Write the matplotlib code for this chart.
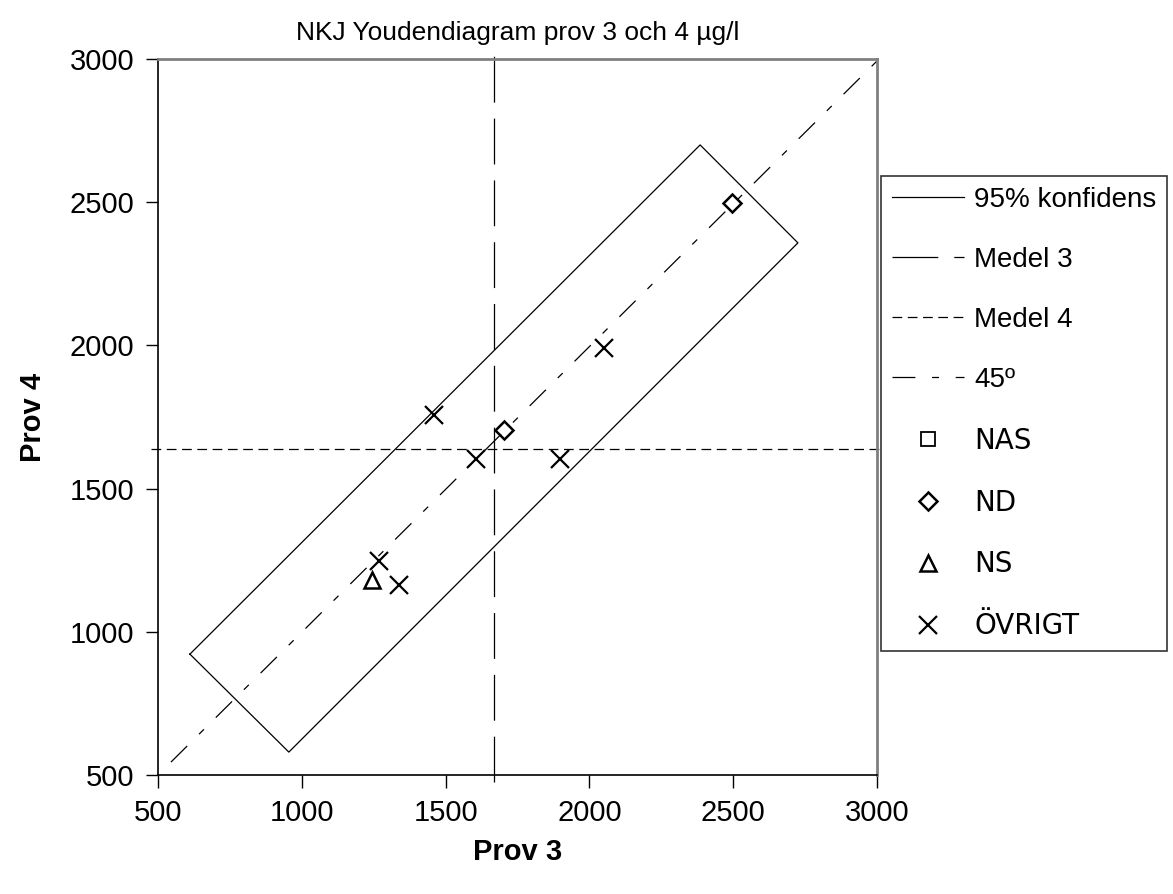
import matplotlib
matplotlib.use("Agg")
import matplotlib.pyplot as plt

plt.rcParams['font.family'] = ['Liberation Sans', 'DejaVu Sans']
plt.rcParams['lines.scale_dashes'] = False

# 95% confidence rectangle corners (Prov 3, Prov 4)
conf_x = [611, 2385, 2725, 955, 611]
conf_y = [922, 2700, 2358, 580, 922]

# means
medel3 = 1668
medel4 = 1638

# lab results by group
nas_x, nas_y = [], []
nd_x = [1703, 2496]
nd_y = [1705, 2497]
ns_x = [1244]
ns_y = [1181]
ovr_x = [1460, 1606, 1898, 1268, 1338, 2051]
ovr_y = [1757, 1603, 1603, 1247, 1163, 1991]

ticks = [500, 1000, 1500, 2000, 2500, 3000]

fig = plt.figure(figsize=(11.73, 8.94), dpi=100)
ax = fig.add_axes([158 / 1173, 1 - 775 / 894, (877 - 158) / 1173, (775 - 59) / 894])

lw = 0.9
ax.plot(conf_x, conf_y, color='black', lw=lw, label='95% konfidens')
ax.plot([medel3, medel3], [475, 3030], color='black', lw=lw,
        dashes=(33, 11.5), clip_on=False, label='Medel 3')
ax.plot([475, 3025], [medel4, medel4], color='black', lw=lw,
        dashes=(7, 4), clip_on=False, label='Medel 4')
ax.plot([545, 3015], [545, 3008], color='black', lw=lw,
        dashes=(16.5, 12, 5, 12), clip_on=False, label='45º')

ax.plot(nas_x, nas_y, ls='none', marker='s', ms=10, mfc='none', mec='black', mew=1.3, label='NAS')
ax.plot(nd_x, nd_y, ls='none', marker='D', ms=9.5, mfc='none', mec='black', mew=1.8, label='ND')
ax.plot(ns_x, ns_y, ls='none', marker='^', ms=11, mfc='none', mec='black', mew=1.8, label='NS')
ax.plot(ovr_x, ovr_y, ls='none', marker='x', ms=13, mec='black', mew=1.6, label='ÖVRIGT')

ax.set_xlim(500, 3000)
ax.set_ylim(500, 3000)
ax.set_xticks(ticks)
ax.set_yticks(ticks)
ax.tick_params(direction='out', length=9, width=1, labelsize=21, pad=8)

ax.spines['top'].set_color('#808080')
ax.spines['right'].set_color('#808080')
ax.spines['top'].set_linewidth(2)
ax.spines['right'].set_linewidth(2)
ax.spines['left'].set_linewidth(1.2)
ax.spines['bottom'].set_linewidth(1.2)

ax.set_title('NKJ Youdendiagram prov 3 och 4 µg/l', fontsize=19, pad=14)
ax.set_xlabel('Prov 3', fontsize=21, fontweight='bold', labelpad=8)
ax.set_ylabel('Prov 4', fontsize=21, fontweight='bold', labelpad=16)

leg = fig.legend(loc='upper left', bbox_to_anchor=(881 / 1173, 1 - 176 / 894),
                 fontsize=20, frameon=True, fancybox=False, edgecolor='black',
                 handlelength=2.6, handletextpad=0.35, labelspacing=1.22,
                 borderpad=0.4, borderaxespad=0)
leg.get_frame().set_linewidth(1.2)
for txt in leg.get_texts()[4:]:
    txt.set_family(['DejaVu Sans'])

fig.savefig('out.png', dpi=100)
